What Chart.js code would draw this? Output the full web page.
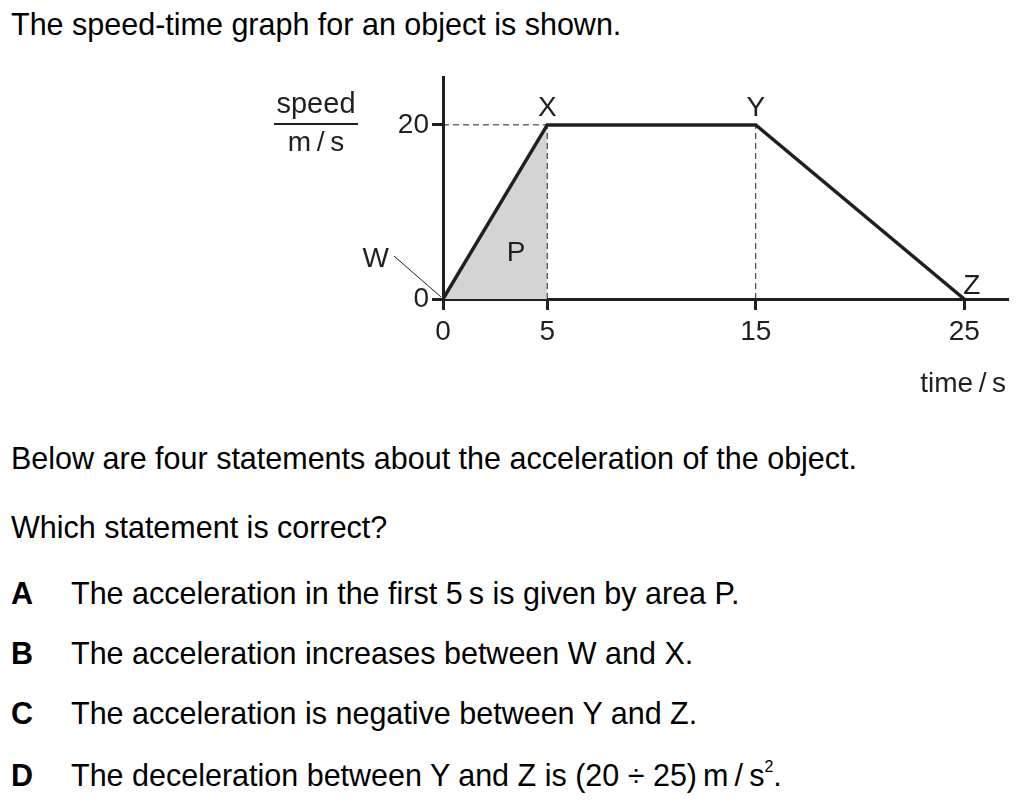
<!DOCTYPE html>
<html lang="en">
<head>
  <meta charset="UTF-8" />
  <title>Speed-time graph question</title>
  <script src="https://cdn.jsdelivr.net/npm/chart.js"></script>
  <style>
    body { margin: 0; background: #fff; font-family: "Liberation Sans", Arial, sans-serif; color: #000; }
    .page { position: relative; width: 1029px; height: 802px; overflow: hidden; }
    .chart-box { position: absolute; left: 0; top: 0; width: 1029px; height: 420px; }
    .line { position: absolute; left: 11px; font-size: 30.5px; line-height: 30px; white-space: nowrap; }
    .opt b { display: inline-block; width: 60px; }
    sup { font-size: 16px; vertical-align: 14px; line-height: 0; }
  </style>
</head>
<body>
  <div class="page">
    <div class="line" style="top: 9px;">The speed-time graph for an object is shown.</div>

    <div class="chart-box"><canvas id="graph"></canvas></div>

    <div class="line" style="top: 443px;">Below are four statements about the acceleration of the object.</div>
    <div class="line" style="top: 512px;">Which statement is correct?</div>
    <div class="line opt" style="top: 578px;"><b>A</b>The acceleration in the first 5&thinsp;s is given by area P.</div>
    <div class="line opt" style="top: 638px;"><b>B</b>The acceleration increases between W and X.</div>
    <div class="line opt" style="top: 698px;"><b>C</b>The acceleration is negative between Y and Z.</div>
    <div class="line opt" style="top: 760px;"><b>D</b>The deceleration between Y and Z is (20 &divide; 25)&thinsp;m&thinsp;/&thinsp;s<sup>2</sup>.</div>
  </div>

  <script>
    // graph values
    const times = [0, 5, 15, 25];
    const speeds = [0, 20, 20, 0];
    const pointNames = ["W", "X", "Y", "Z"];
    const xTicks = [0, 5, 15, 25];
    const yTicks = [0, 20];

    const ink = "#231f20";
    const font = "Liberation Sans, Arial, sans-serif";

    const mainLine = times.map((t, i) => ({ x: t, y: speeds[i] }));
    // area P under first section
    const areaP = mainLine.slice(0, 2);
    // dashed guide lines
    const guideX = [{ x: 0, y: speeds[1] }, { x: times[1], y: speeds[1] }];
    const guideX2 = [{ x: times[1], y: 0 }, { x: times[1], y: speeds[1] }];
    const guideY = [{ x: times[2], y: 0 }, { x: times[2], y: speeds[2] }];

    const labels = {
      id: "labels",
      afterDraw(chart) {
        const { ctx, scales } = chart;
        const xs = scales.x, ys = scales.y;
        ctx.save();
        ctx.fillStyle = ink;
        ctx.strokeStyle = ink;
        ctx.font = "28px " + font;
        ctx.textAlign = "center";
        ctx.textBaseline = "alphabetic";

        // point names
        const px = i => xs.getPixelForValue(times[i]);
        const py = i => ys.getPixelForValue(speeds[i]);
        ctx.fillText(pointNames[1], px(1), py(1) - 9);
        ctx.fillText(pointNames[2], px(2), py(2) - 9);
        ctx.textAlign = "left";
        ctx.fillText(pointNames[3], px(3) - 1, py(3) - 5);
        ctx.textAlign = "right";
        ctx.fillText(pointNames[0], px(0) - 54, py(0) - 32);

        // W pointer
        ctx.lineWidth = 1;
        ctx.beginPath();
        ctx.moveTo(px(0) - 49, py(0) - 43);
        ctx.lineTo(px(0) - 2, py(0) - 2);
        ctx.stroke();

        // area label
        ctx.textAlign = "center";
        ctx.fillText("P", xs.getPixelForValue(3.5), ys.getPixelForValue(5.5) + 10);

        // axis titles
        const y20 = ys.getPixelForValue(20);
        ctx.font = "29px " + font;
        ctx.fillText("speed", xs.left - 127, y20 - 12);
        ctx.font = "28px " + font;
        ctx.fillText("m\u2009/\u2009s", xs.left - 127, y20 + 26);
        ctx.lineWidth = 2;
        ctx.beginPath();
        ctx.moveTo(xs.left - 169, y20 - 1);
        ctx.lineTo(xs.left - 85, y20 - 1);
        ctx.stroke();
        ctx.fillText("time\u2009/\u2009s", xs.getPixelForValue(24.95), ys.bottom + 93);
        ctx.restore();
      }
    };

    new Chart(document.getElementById("graph"), {
      type: "line",
      data: {
        datasets: [
          {
            data: mainLine,
            borderColor: ink,
            borderWidth: 3.5,
            pointRadius: 0,
            tension: 0,
            borderJoinStyle: "miter"
          },
          {
            data: guideX,
            borderColor: ink,
            borderWidth: 1,
            borderDash: [6, 4],
            pointRadius: 0
          },
          {
            data: guideX2,
            borderColor: ink,
            borderWidth: 1,
            borderDash: [6, 4],
            pointRadius: 0
          },
          {
            data: guideY,
            borderColor: ink,
            borderWidth: 1,
            borderDash: [6, 4],
            pointRadius: 0
          },
          {
            data: areaP,
            borderWidth: 0,
            pointRadius: 0,
            fill: "origin",
            backgroundColor: "#d4d4d4"
          }
        ]
      },
      options: {
        responsive: true,
        maintainAspectRatio: false,
        animation: false,
        events: [],
        layout: { padding: { left: 373, right: 21, top: 77, bottom: 71 } },
        plugins: { legend: { display: false }, tooltip: { enabled: false } },
        scales: {
          x: {
            type: "linear",
            min: 0,
            max: 27.1,
            afterBuildTicks: s => { s.ticks = xTicks.map(v => ({ value: v })); },
            afterFit: s => { s.height = 50; },
            border: { color: ink, width: 3 },
            grid: { drawOnChartArea: false, tickLength: 11, tickColor: ink, tickWidth: 3 },
            ticks: { color: ink, padding: 5, font: { size: 28, family: font } }
          },
          y: {
            type: "linear",
            min: 0,
            max: 25.5,
            afterBuildTicks: s => { s.ticks = yTicks.map(v => ({ value: v })); },
            afterFit: s => { s.width = 70; },
            border: { color: ink, width: 3 },
            grid: { drawOnChartArea: false, tickLength: 11, tickColor: ink, tickWidth: 3 },
            ticks: { color: ink, padding: 3, font: { size: 28, family: font } }
          }
        }
      },
      plugins: [labels]
    });
  </script>
</body>
</html>
